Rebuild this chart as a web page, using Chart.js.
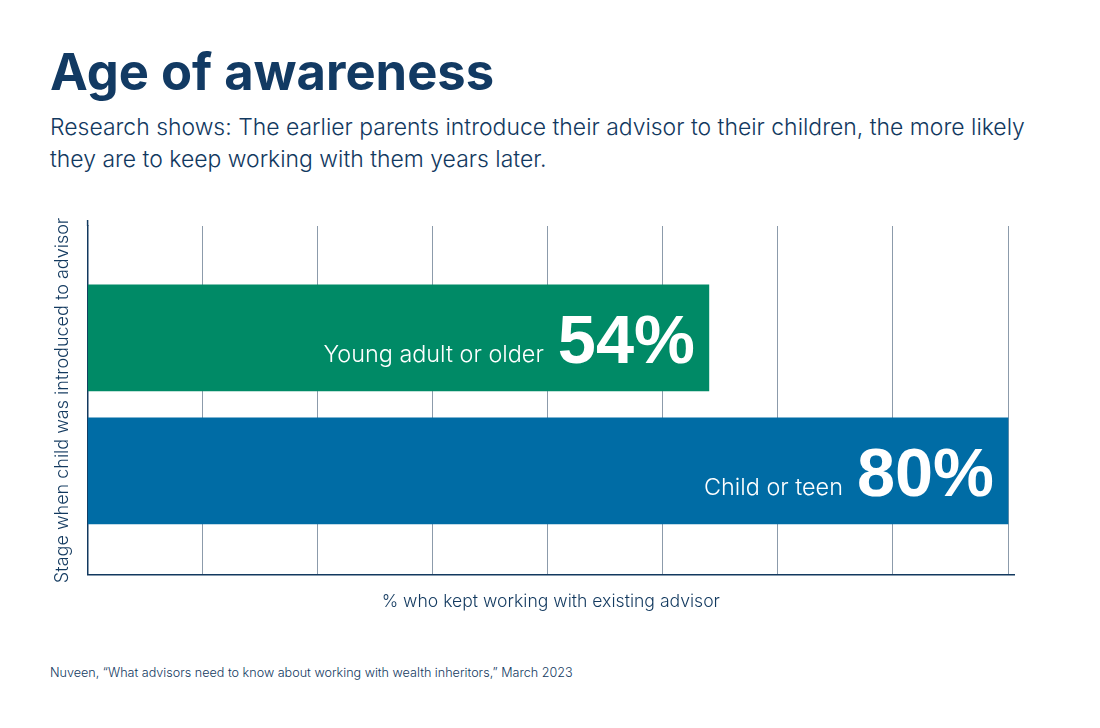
<!DOCTYPE html>
<html><head><meta charset="utf-8">
<style>
html,body{margin:0;padding:0;background:#fff;width:1100px;height:728px;overflow:hidden}
#c{position:absolute;left:0;top:0}
.t{position:absolute;left:50px;color:#12395F;font-family:Inter,sans-serif;white-space:nowrap}
#h{top:40px;font-size:50.7px;font-weight:700;line-height:64px;color:#123A63}
#s{top:111px;font-size:22.95px;line-height:32px;font-weight:300}
#f{top:665px;font-size:12.6px;line-height:16px;font-weight:300}
</style>
<script src="https://cdn.jsdelivr.net/npm/chart.js@4/dist/chart.umd.min.js"></script>
</head><body>
<div class="t" id="h">Age of awareness</div>
<div class="t" id="s">Research shows: The earlier parents introduce their advisor to their children, the more likely<br>they are to keep working with them years later.</div>
<div class="t" id="f">Nuveen, “What advisors need to know about working with wealth inheritors,” March 2023</div>
<canvas id="c" width="1100" height="728"></canvas>
<script>
const categories=['Young adult or older','Child or teen'];
const positions=[0,1];
const values=[54,80];
const colors=['#008A66','#006CA5'];
const xTicks=[0,10,20,30,40,50,60,70,80];
const navy='#12395F';
const inBar={id:'inBar',afterDatasetsDraw(ch){
  const c=ch.ctx,m=ch.getDatasetMeta(0);
  m.data.forEach((el,i)=>{
    c.save();c.fillStyle='#fff';c.textBaseline='alphabetic';c.textAlign='right';
    const base=el.y+25,right=el.x-14;
    c.font='bold 68.5px "Liberation Sans"';
    const txt=values[i]+'%';c.fillText(txt,right,base);
    const w=c.measureText(txt).width;
    c.font='300 23.4px Inter';
    c.fillText(categories[i],right-w-14,base-1);
    c.restore();
  });
}};
const yExt={id:'yExt',afterDraw(ch){
  const c=ch.ctx,a=ch.chartArea;
  c.save();c.strokeStyle=navy;c.lineWidth=1.5;c.beginPath();c.moveTo(a.left,a.top);c.lineTo(a.left,a.top-6);c.stroke();c.restore();
}};
new Chart(document.getElementById('c'),{
  type:'bar',
  data:{labels:categories,datasets:[{data:categories.map((n,i)=>({x:values[i],y:positions[i]})),backgroundColor:colors,barThickness:106,borderWidth:0}]},
  plugins:[inBar,yExt],
  options:{
    indexAxis:'y',responsive:false,animation:false,
    layout:{padding:{left:51.5,top:226,right:86,bottom:112}},
    plugins:{legend:{display:false},tooltip:{enabled:false},title:{display:false}},
    scales:{
      x:{type:'linear',min:0,max:80.52,
        afterBuildTicks(s){s.ticks=xTicks.map(v=>({value:v}));},
        grid:{color:'#8C9BAB',lineWidth:1,drawTicks:false},
        border:{color:navy,width:1.5},
        ticks:{display:false},
        title:{display:true,text:'% who kept working with existing advisor',color:navy,font:{family:'Inter',size:17.6,weight:300},padding:{top:16}}},
      y:{type:'linear',reverse:true,offset:false,min:-0.842,max:1.782,
        grid:{display:false,drawTicks:false,offset:false},
        border:{color:navy,width:1.5},
        ticks:{display:false},
        title:{display:true,text:'Stage when child was introduced to advisor',color:navy,font:{family:'Inter',size:18,weight:300},padding:{bottom:14.5,top:0}}}
    }
  }
});
</script>
</body></html>
